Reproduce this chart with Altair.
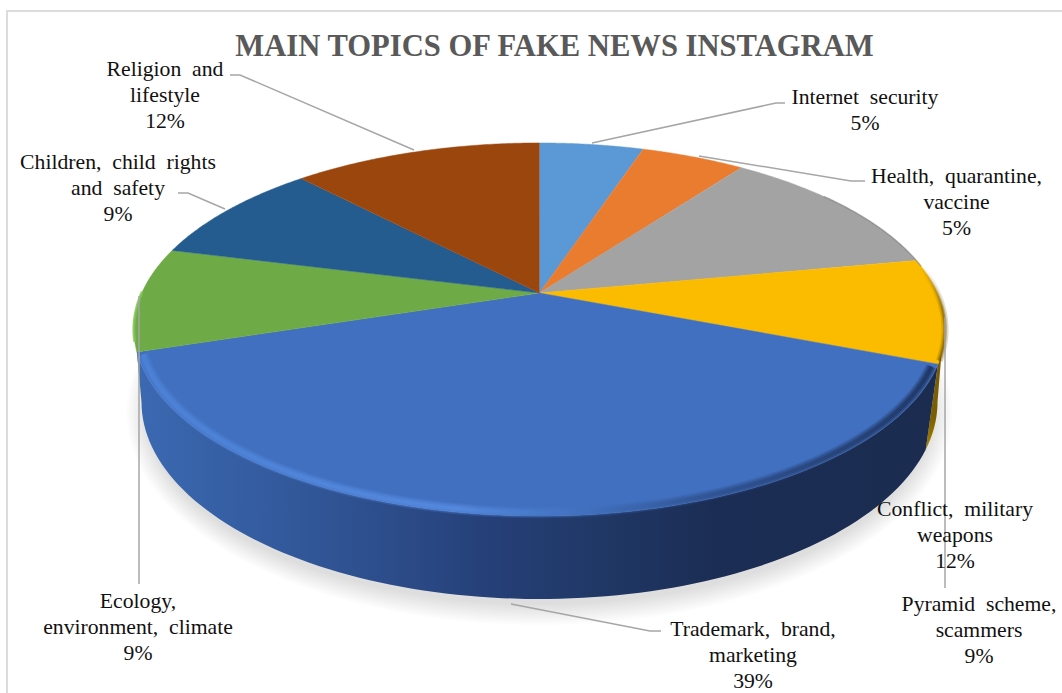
import math
import altair as alt
import pandas as pd

# Share of each topic, clockwise from twelve o'clock
topics = [
    "Internet security", "Health, quarantine, vaccine", "Conflict, military weapons",
    "Pyramid scheme, scammers", "Trademark, brand, marketing",
    "Ecology, environment, climate", "Children, child rights and safety",
    "Religion and lifestyle",
]
shares = [5, 5, 12, 9, 39, 9, 9, 12]
colors = ["#5A99D5", "#EA7C30", "#A3A3A3", "#FBBC00", "#4170C0", "#6EAB46", "#255C8F", "#9A460D"]

label_lines = [
    ["Internet security"], ["Health, quarantine,", "vaccine"], ["Conflict, military", "weapons"],
    ["Pyramid scheme,", "scammers"], ["Trademark, brand,", "marketing"],
    ["Ecology,", "environment, climate"], ["Children, child rights", "and safety"],
    ["Religion and", "lifestyle"],
]
label_x = [865, 956.5, 955, 979, 753, 138, 118, 165]
label_y = [97, 176, 509, 604, 628.5, 601, 162, 69]

leaders = [
    [(592, 143), (776, 103), (785, 103)],
    [(699, 156), (851, 181), (865, 181)],
    [(945, 317), (945, 588)],
    [(511, 604), (650, 631), (661, 631)],
    [(139, 296), (139, 584)],
    [(178, 193), (188, 193), (225, 209)],
    [(230, 75), (240, 75), (414, 150)],
]

W, H = 1062, 693
CX, CY = 539.5, 293      # hub of the disc as seen in perspective
A, B, K = 397.7, 179.4, 0.1957
FLOOR = dict(cx=539.5, cy=402, rx=398, ry=197)   # lower edge of the disc wall

x_scale = alt.Scale(domain=[0, W], nice=False, zero=False)
y_scale = alt.Scale(domain=[H, 0], nice=False, zero=False)


def rim(deg, inset=1.0):
    """Perspective projection of a point on the disc's top edge."""
    t = math.radians(deg)
    s, c = math.sin(t) * inset, math.cos(t) * inset
    w = 1 + K * c
    return CX + A * s / w, CY - B * c / w


def rim_arc(a, b, n=80, inset=1.0):
    return [rim(a + (b - a) * i / n, inset) for i in range(n + 1)]


def floor_pt(t):
    return (FLOOR["cx"] + FLOOR["rx"] * math.cos(t), FLOOR["cy"] + FLOOR["ry"] * math.sin(t))


def floor_arc(a, b, n=100):
    return [floor_pt(math.radians(a + (b - a) * i / n)) for i in range(n + 1)]


def frame(points):
    return pd.DataFrame({"x": [p[0] for p in points], "y": [p[1] for p in points],
                         "i": list(range(len(points)))})


def path(points, **mark):
    return alt.Chart(frame(points)).mark_line(**mark).encode(
        x=alt.X("x:Q", scale=x_scale, axis=None),
        y=alt.Y("y:Q", scale=y_scale, axis=None),
        order=alt.Order("i:Q"),
    )


def poly(points, fill, opacity=1.0, seam=0.0):
    return path(points, filled=True, fill=fill, stroke=fill if isinstance(fill, str) else "transparent",
                strokeWidth=seam, opacity=opacity, interpolate="linear")


def ramp(stops, x2=1, y2=0):
    return alt.Gradient(gradient="linear", x1=0, y1=0, x2=x2, y2=y2,
                        stops=[alt.GradientStop(offset=o, color=c) for o, c in stops])


# Slice boundaries in degrees clockwise from the top
edges = [0]
for v in shares:
    edges.append(edges[-1] + v * 3.6)

layers = []

# Page frame
layers.append(path([(7, 693), (7, 11), (1062, 11)], stroke="#DCDCDC", strokeWidth=2))

# Soft ground shadow: stacked copies of the floor ellipse, largest first
for grow in range(15, -7, -2):
    pts = []
    for i in range(181):
        t = math.radians(i * 2)
        pts.append((FLOOR["cx"] + (FLOOR["rx"] + grow) * math.cos(t),
                    FLOOR["cy"] + 11 + (FLOOR["ry"] + grow) * math.sin(t)))
    layers.append(poly(pts, "#000000", opacity=0.013))

# Disc wall: green sliver, yellow sliver, then the large blue front
blue_end = edges[5]     # left corner of the blue slice
blue_start = edges[4]   # right corner of the blue slice
left_corner, right_corner = rim(blue_end), rim(blue_start)
widest_left = rim(262)
widest_right = rim(98)

layers.append(poly([widest_left, floor_pt(math.pi), left_corner], "#649E3E"))
yellow_wall = [widest_right] + floor_arc(0, 14, 20) + [right_corner]
layers.append(poly(yellow_wall, ramp([(0, "#76590A"), (0.75, "#7C5E00"), (1, "#A88300")], x2=0, y2=1)))
front = [left_corner] + floor_arc(180, 14) + [right_corner] + rim_arc(blue_start, blue_end)[1:-1]
layers.append(poly(front, ramp([
    (0, "#3B69B2"), (0.2, "#32589A"), (0.45, "#253F77"), (0.55, "#213A69"),
    (0.72, "#1B2D54"), (1, "#1B2C50"),
])))

# Top face, one wedge per topic
for a, b, col in zip(edges[:-1], edges[1:], colors):
    layers.append(poly([(CX, CY)] + rim_arc(a, b), col, seam=0.5))

# Bevel along the rim of the blue slice, bright on the left and dark on the right
bevel = rim_arc(blue_start + 1, blue_end - 1, inset=0.988)
bevel_stops = [(0, "#4F86DC"), (0.4, "#5A90E6"), (0.55, "#4272BF"), (0.72, "#2B4A85"), (1, "#16264A")]
for w, op in [(11, 0.2), (8.5, 0.25), (6, 0.3), (3.5, 0.4)]:
    layers.append(path(bevel, stroke=ramp(bevel_stops), strokeWidth=w, opacity=op))

# Darkened rim of the yellow slice, fading out towards its top, and a lighter one on the green slice
y_rim = rim_arc(edges[3] + 2, edges[4] - 1)
y_fade = ramp([(0, "rgba(110,83,0,0)"), (0.45, "rgba(110,83,0,0.8)"), (1, "rgba(110,83,0,1)")], x2=0, y2=1)
for w, op in [(7, 0.25), (4, 0.35), (2, 0.5)]:
    layers.append(path(y_rim, stroke=y_fade, strokeWidth=w, opacity=op))
layers.append(path(rim_arc(edges[2] + 17, edges[3] + 2), stroke="#777777", strokeWidth=1.5, opacity=0.5))
layers.append(path(rim_arc(edges[5] + 3, edges[6] - 14), stroke="#7CC250", strokeWidth=3, opacity=0.8))

# Leader lines
for seg in leaders:
    layers.append(path(seg, stroke="#A6A6A6", strokeWidth=1.5))

# Category labels, one row per drawn line of text; word gaps are set wide
rows = []
for lines, lx, ly, v in zip(label_lines, label_x, label_y, shares):
    for j, t in enumerate(lines + [f"{v}%"]):
        rows.append({"x": lx, "y": ly + j * 26, "t": t.replace(" ", "\u00a0\u00a0")})
layers.append(alt.Chart(pd.DataFrame(rows)).mark_text(
    font="Liberation Serif", fontSize=21.7, color="#111111", align="center", baseline="middle"
).encode(
    x=alt.X("x:Q", scale=x_scale, axis=None),
    y=alt.Y("y:Q", scale=y_scale, axis=None),
    text="t:N",
))

# Heading
title_row = pd.DataFrame({"x": [554.5], "y": [47], "t": ["MAIN TOPICS OF FAKE NEWS INSTAGRAM"]})
layers.append(alt.Chart(title_row).mark_text(
    font="Liberation Serif", fontSize=30.6, fontWeight="bold", color="#595959",
    align="center", baseline="middle"
).encode(
    x=alt.X("x:Q", scale=x_scale, axis=None),
    y=alt.Y("y:Q", scale=y_scale, axis=None),
    text="t:N",
))

chart = alt.layer(*layers).properties(
    width=W, height=H, padding=0, autosize=alt.AutoSizeParams(type="none"), background="white"
).configure_view(stroke=None)

chart.save("out.html", embed_options={"renderer": "svg", "actions": False})
